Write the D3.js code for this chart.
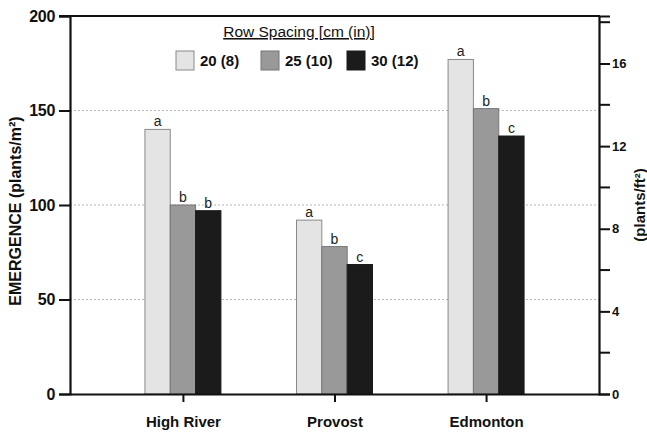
<!DOCTYPE html>
<html>
<head>
<meta charset="utf-8">
<script src="https://cdn.jsdelivr.net/npm/d3@7"></script>
<style>
  html, body { margin: 0; padding: 0; background: #fff; }
  svg { display: block; font-family: "Liberation Sans", Arial, sans-serif; }
</style>
</head>
<body>
<svg id="chart" width="647" height="434"></svg>
<script>
// Sites and row spacing treatments
const categories = ["High River", "Provost", "Edmonton"];
const seriesNames = ["20 (8)", "25 (10)", "30 (12)"];

// Emergence (plants/m²) per site, one array per row spacing
const spacing20 = [140, 92, 177];
const spacing25 = [100, 78, 151];
const spacing30 = [97, 68.5, 136.5];

// Mean separation letters per site
const letters20 = ["a", "a", "a"];
const letters25 = ["b", "b", "b"];
const letters30 = ["b", "c", "c"];

const leftTicks = [0, 50, 100, 150, 200];
const gridTicks = [50, 100, 150];
const rightMajorTicks = [0, 4, 8, 12, 16];
const rightMinorTicks = [2, 6, 10, 14, 18];

const fills = ["#e4e4e4", "#999999", "#1b1b1b"];
const strokes = ["#8a8a8a", "#767676", "#1b1b1b"];

const seriesValues = [spacing20, spacing25, spacing30];
const seriesLetters = [letters20, letters25, letters30];

const svg = d3.select("#chart");
const plot = { left: 70, right: 599, top: 16, bottom: 394 };

const y = d3.scaleLinear().domain([0, 200]).range([plot.bottom, plot.top]);
const yRight = d3.scaleLinear().domain([0, 18.3]).range([plot.bottom, plot.top]);
const x = d3.scalePoint().domain(categories).range([plot.left, plot.right]).padding(0.745);
const xInner = d3.scaleBand().domain(d3.range(seriesNames.length)).range([-38, 38]).padding(0);

// Dotted grid
svg.append("g")
  .selectAll("line")
  .data(gridTicks)
  .join("line")
  .attr("x1", plot.left).attr("x2", plot.right)
  .attr("y1", d => y(d)).attr("y2", d => y(d))
  .attr("stroke", "#b8b8b8")
  .attr("stroke-width", 1)
  .attr("stroke-dasharray", "2,2");

// Bars and letters
const groups = svg.append("g")
  .selectAll("g")
  .data(categories)
  .join("g")
  .attr("transform", d => `translate(${x(d)},0)`);

groups.each(function(cat, ci) {
  const g = d3.select(this);
  seriesValues.forEach((vals, si) => {
    g.append("rect")
      .attr("x", xInner(si))
      .attr("y", y(vals[ci]))
      .attr("width", xInner.bandwidth())
      .attr("height", y(0) - y(vals[ci]))
      .attr("fill", fills[si])
      .attr("stroke", strokes[si])
      .attr("stroke-width", 1);
    g.append("text")
      .attr("x", xInner(si) + xInner.bandwidth() / 2)
      .attr("y", y(vals[ci]) - 3)
      .attr("text-anchor", "middle")
      .attr("font-size", 14)
      .attr("fill", "#222")
      .text(seriesLetters[si][ci]);
  });
});

// Left axis
const leftAxis = d3.axisLeft(y).tickValues(leftTicks).tickSize(11).tickPadding(4);
const gl = svg.append("g").attr("transform", `translate(${plot.left},0)`).call(leftAxis);
gl.select(".domain").attr("stroke", "#111").attr("stroke-width", 2.2);
gl.selectAll(".tick line").attr("stroke", "#111").attr("stroke-width", 2);
gl.selectAll(".tick text").attr("font-size", 16).attr("font-weight", "bold")
  .attr("fill", "#111").attr("font-family", "Liberation Sans, Arial, sans-serif")
  .attr("letter-spacing", -0.3);

// Right axis (plants/ft²)
const rightAxis = d3.axisRight(yRight).tickValues(rightMajorTicks).tickSize(11).tickPadding(2);
const gr = svg.append("g").attr("transform", `translate(${plot.right},0)`).call(rightAxis);
gr.select(".domain").attr("stroke", "#111").attr("stroke-width", 2.2);
gr.selectAll(".tick line").attr("stroke", "#111").attr("stroke-width", 2);
gr.selectAll(".tick text").attr("font-size", 13).attr("font-weight", "bold")
  .attr("fill", "#111").attr("font-family", "Liberation Sans, Arial, sans-serif");
gr.append("g").selectAll("line")
  .data(rightMinorTicks)
  .join("line")
  .attr("x1", 0).attr("x2", 11)
  .attr("y1", d => yRight(d)).attr("y2", d => yRight(d))
  .attr("stroke", "#111").attr("stroke-width", 2);

// Bottom axis
const bottomAxis = d3.axisBottom(x).tickSize(8).tickPadding(14).tickSizeOuter(0);
const gb = svg.append("g").attr("transform", `translate(0,${plot.bottom})`).call(bottomAxis);
gb.select(".domain").attr("stroke", "#111").attr("stroke-width", 2.2);
gb.selectAll(".tick line").attr("stroke", "#111").attr("stroke-width", 2);
gb.selectAll(".tick text").attr("font-size", 15).attr("font-weight", "bold")
  .attr("fill", "#111").attr("font-family", "Liberation Sans, Arial, sans-serif");

// Top border
svg.append("line")
  .attr("x1", plot.left - 11).attr("x2", plot.right + 1)
  .attr("y1", plot.top).attr("y2", plot.top)
  .attr("stroke", "#111").attr("stroke-width", 2.2);

// Axis titles
svg.append("text")
  .attr("transform", `translate(21,${(plot.top + plot.bottom) / 2 + 6}) rotate(-90)`)
  .attr("text-anchor", "middle")
  .attr("font-size", 16).attr("font-weight", "bold").attr("fill", "#111")
  .text("EMERGENCE (plants/m²)");

svg.append("text")
  .attr("transform", `translate(645,${(plot.top + plot.bottom) / 2 + 0}) rotate(-90)`)
  .attr("text-anchor", "middle")
  .attr("font-size", 15).attr("font-weight", "bold").attr("fill", "#111")
  .text("(plants/ft²)");

// Legend
const legend = svg.append("g");
legend.append("text")
  .attr("x", 299).attr("y", 37)
  .attr("text-anchor", "middle")
  .attr("font-size", 15.5).attr("fill", "#111")
  .attr("text-decoration", "underline")
  .text("Row Spacing [cm (in)]");

const legendX = [176, 261, 347];
seriesNames.forEach((name, i) => {
  const item = legend.append("g").attr("transform", `translate(${legendX[i]},51)`);
  item.append("rect")
    .attr("width", 18).attr("height", 19)
    .attr("fill", fills[i]).attr("stroke", strokes[i]).attr("stroke-width", 1);
  item.append("text")
    .attr("x", 24).attr("y", 15)
    .attr("font-size", 15).attr("font-weight", "bold").attr("fill", "#111")
    .text(name);
});
</script>
</body>
</html>
